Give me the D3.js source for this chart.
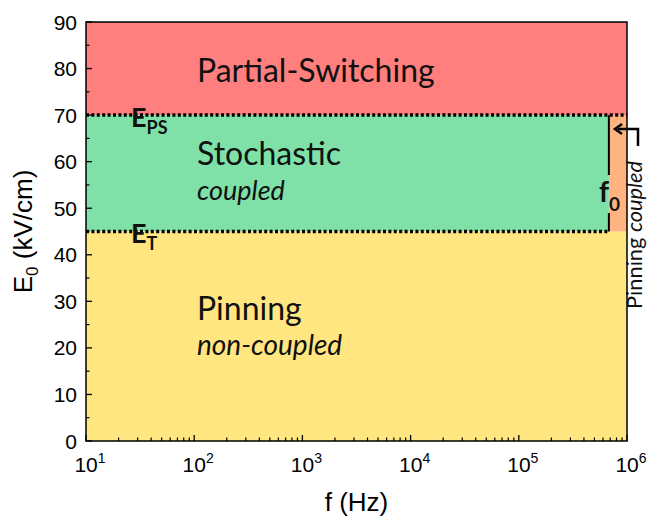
<!DOCTYPE html>
<html>
<head>
<meta charset="utf-8">
<script src="https://cdn.jsdelivr.net/npm/d3@7"></script>
<style>
  html, body { margin: 0; padding: 0; background: #fff; }
  svg { display: block; }
  .axis text { font-family: "Liberation Sans", Arial, sans-serif; fill: #000; }
  .region { font-family: Lato, "Open Sans", sans-serif; fill: #111; }
</style>
</head>
<body>
<svg id="chart" width="647" height="519"></svg>
<script>
// Field / frequency regime map
const fDomain = [1e1, 1e6];            // Hz
const eDomain = [0, 90];               // kV/cm
const E_T = 45;                        // threshold field
const E_PS = 70;                       // partial-switching field
const f0 = 6.8e5;                      // cutoff frequency
const xTickValues = [1e1, 1e2, 1e3, 1e4, 1e5, 1e6];
const xTickExponents = ["1", "2", "3", "4", "5", "6"];
const yTickValues = [0, 10, 20, 30, 40, 50, 60, 70, 80, 90];
const yMinorValues = [5, 15, 25, 35, 45, 55, 65, 75, 85];
const regionNames = ["Partial-Switching", "Stochastic", "Pinning", "Pinning"];
const regionSubs = ["", "coupled", "non-coupled", "coupled"];
const regionColors = ["#ff7f7f", "#7fe0a8", "#ffe680", "#ffb380"];

const svg = d3.select("#chart");
const margin = { left: 86, right: 20, top: 22, bottom: 78 };
const W = 647, H = 519;
const x = d3.scaleLog().domain(fDomain).range([margin.left, W - margin.right]);
const y = d3.scaleLinear().domain(eDomain).range([H - margin.bottom, margin.top]);

// Regime areas
const areas = [
  { x0: fDomain[0], x1: fDomain[1], y0: E_PS, y1: eDomain[1], c: regionColors[0] },
  { x0: fDomain[0], x1: f0, y0: E_T, y1: E_PS, c: regionColors[1] },
  { x0: fDomain[0], x1: fDomain[1], y0: eDomain[0], y1: E_T, c: regionColors[2] },
  { x0: f0, x1: fDomain[1], y0: E_T, y1: E_PS, c: regionColors[3] }
];
svg.append("g").selectAll("rect").data(areas).join("rect")
  .attr("x", d => x(d.x0)).attr("width", d => x(d.x1) - x(d.x0))
  .attr("y", d => y(d.y1)).attr("height", d => y(d.y0) - y(d.y1))
  .attr("fill", d => d.c);

// Boundary lines
svg.append("line")
  .attr("x1", x(fDomain[0])).attr("x2", x(fDomain[1]))
  .attr("y1", y(E_PS)).attr("y2", y(E_PS))
  .attr("stroke", "#000").attr("stroke-width", 3.5).attr("stroke-dasharray", "3,2.4");
svg.append("line")
  .attr("x1", x(fDomain[0])).attr("x2", x(f0))
  .attr("y1", y(E_T)).attr("y2", y(E_T))
  .attr("stroke", "#000").attr("stroke-width", 3.5).attr("stroke-dasharray", "3,2.4");
// f0 boundary, broken around its label
svg.append("line")
  .attr("x1", x(f0)).attr("x2", x(f0))
  .attr("y1", y(E_PS)).attr("y2", 175)
  .attr("stroke", "#000").attr("stroke-width", 2);
svg.append("line")
  .attr("x1", x(f0)).attr("x2", x(f0))
  .attr("y1", 213).attr("y2", y(E_T))
  .attr("stroke", "#000").attr("stroke-width", 2);

// Axes with inward ticks
const plotL = x(fDomain[0]), plotR = x(fDomain[1]);
const plotT = y(eDomain[1]), plotB = y(eDomain[0]);

const xMinor = [];
for (let d = 1; d < 6; d++) for (let m = 2; m <= 9; m++) xMinor.push(m * Math.pow(10, d));

const ticks = svg.append("g");
ticks.selectAll(".xmaj").data(xTickValues).join("line")
  .attr("x1", d => x(d)).attr("x2", d => x(d))
  .attr("y1", plotB).attr("y2", plotB - 6)
  .attr("stroke", "#000").attr("stroke-width", 1.3);
ticks.selectAll(".xmin").data(xMinor).join("line")
  .attr("x1", d => x(d)).attr("x2", d => x(d))
  .attr("y1", plotB).attr("y2", plotB - 3.5)
  .attr("stroke", "#000").attr("stroke-width", 1.2);
ticks.selectAll(".ymaj").data(yTickValues).join("line")
  .attr("x1", plotL).attr("x2", plotL + 6)
  .attr("y1", d => y(d)).attr("y2", d => y(d))
  .attr("stroke", "#000").attr("stroke-width", 1.3);
ticks.selectAll(".ymin").data(yMinorValues).join("line")
  .attr("x1", plotL).attr("x2", plotL + 3.5)
  .attr("y1", d => y(d)).attr("y2", d => y(d))
  .attr("stroke", "#000").attr("stroke-width", 1.2);

// Frame
svg.append("rect")
  .attr("x", plotL).attr("y", plotT)
  .attr("width", plotR - plotL).attr("height", plotB - plotT)
  .attr("fill", "none").attr("stroke", "#000").attr("stroke-width", 1.5);

// Tick labels
const axisG = svg.append("g").attr("class", "axis");
axisG.selectAll(".yl").data(yTickValues).join("text")
  .attr("x", plotL - 9).attr("y", d => y(d) + 7.5)
  .attr("text-anchor", "end").attr("font-size", 21)
  .text(d => d);
const xl = axisG.selectAll(".xl").data(xTickValues).join("text")
  .attr("x", d => x(d) + 4).attr("y", plotB + 31)
  .attr("text-anchor", "middle").attr("font-size", 21);
xl.append("tspan").text("10");
xl.append("tspan").attr("font-size", 14).attr("dy", -9).text((d, i) => xTickExponents[i]);

// Axis titles
axisG.append("text")
  .attr("x", (plotL + plotR) / 2).attr("y", 511)
  .attr("text-anchor", "middle").attr("font-size", 26)
  .text("f (Hz)");
const yt = axisG.append("text")
  .attr("transform", `translate(32, ${(plotT + plotB) / 2}) rotate(-90)`)
  .attr("text-anchor", "middle").attr("font-size", 26);
yt.append("tspan").text("E");
yt.append("tspan").attr("font-size", 17).attr("dy", 6).text("0");
yt.append("tspan").attr("dy", -6).text(" (kV/cm)");

// Regime labels
const reg = svg.append("g").attr("class", "region");
const tx = 197;
reg.append("text").attr("x", tx).attr("y", 82).attr("font-size", 32).text(regionNames[0]);
reg.append("text").attr("x", tx).attr("y", 165).attr("font-size", 32).text(regionNames[1]);
reg.append("text").attr("x", tx).attr("y", 200).attr("font-size", 27).attr("font-style", "italic").text(regionSubs[1]);
reg.append("text").attr("x", tx).attr("y", 320).attr("font-size", 32).text(regionNames[2]);
reg.append("text").attr("x", tx).attr("y", 355).attr("font-size", 28).attr("font-style", "italic").text(regionSubs[2]);

// Boundary symbols
const sym = svg.append("g").attr("class", "region").attr("font-weight", "bold");
const eps = sym.append("text").attr("x", 131).attr("y", 127).attr("font-size", 27);
eps.append("tspan").text("E");
eps.append("tspan").attr("font-size", 18).attr("dy", 7).text("PS");
const et = sym.append("text").attr("x", 131).attr("y", 243).attr("font-size", 27);
et.append("tspan").text("E");
et.append("tspan").attr("font-size", 18).attr("dy", 7).text("T");
const f0t = sym.append("text").attr("x", 599).attr("y", 202).attr("font-size", 28);
f0t.append("tspan").text("f");
f0t.append("tspan").attr("font-size", 19).attr("dy", 9).text("0");

// Narrow high-frequency pinning strip label
const side = svg.append("text").attr("class", "region")
  .attr("transform", "translate(642, 309) rotate(-90) scale(1.04, 1)")
  .attr("font-size", 21);
side.append("tspan").text(regionNames[3] + " ");
side.append("tspan").attr("font-style", "italic").text(regionSubs[3]);

// Arrow pointing to the strip
const ax0 = 638, ay0 = 146, ay1 = 129, ax1 = 615;
svg.append("path")
  .attr("d", `M${ax0},${ay0} V${ay1} H${ax1 + 3}`)
  .attr("fill", "none").attr("stroke", "#000").attr("stroke-width", 2.5);
svg.append("path")
  .attr("d", `M${ax1 + 7},${ay1 - 5} L${ax1},${ay1} L${ax1 + 7},${ay1 + 5}`)
  .attr("fill", "none").attr("stroke", "#000").attr("stroke-width", 2.5);
</script>
</body>
</html>
